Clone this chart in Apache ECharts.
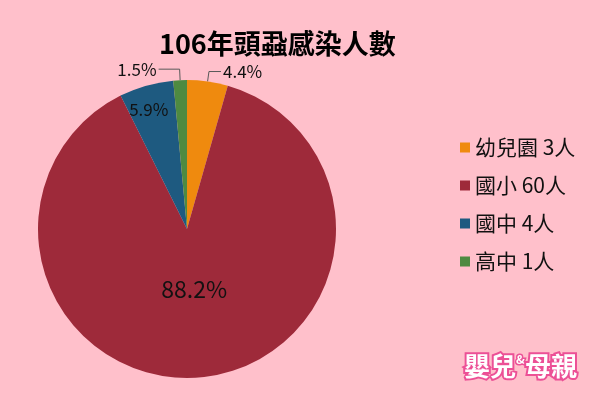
<!DOCTYPE html>
<html>
<head>
<meta http-equiv="content-type" content="text/html; charset=UTF-8">
<title>106年頭蝨感染人數</title>
<script src="https://cdn.jsdelivr.net/npm/echarts@6/dist/echarts.min.js"></script>
<style>
  html, body { margin: 0; padding: 0; background: #ffc0cb; }
</style>
</head>
<body>
	<div id="main" style="width: 600px; height: 400px;"></div>
	<script type="text/javascript">

        // 資料
        var categories = ['幼兒園', '國小', '國中', '高中'];
        var counts = [3, 60, 4, 1];
        var colors = ['#ef8a0e', '#9e2a3a', '#1e5a80', '#4e8a41'];

        var total = counts.reduce(function (a, b) { return a + b; }, 0);
        var FONT = '"Noto Sans CJK TC", "Noto Sans", sans-serif';

        // 每塊的標籤樣式
        var labelStyles = [
            { position: 'outside', fontSize: 17, distanceToLabelLine: 2 },
            { position: 'inside', fontSize: 23 },
            { position: 'inside', fontSize: 17 },
            { position: 'outside', fontSize: 17, distanceToLabelLine: 2 }
        ];
        var lineStyles = [
            { length: 10, length2: 12 },
            {},
            {},
            { length: 11, length2: 21 }
        ];

        var pieData = categories.map(function (name, i) {
            return {
                name: name,
                value: counts[i],
                itemStyle: { color: colors[i] },
                label: labelStyles[i],
                labelLine: lineStyles[i]
            };
        });

        var myChart = echarts.init(document.getElementById('main'));

        var option = {
            backgroundColor: '#ffc0cb',
            animation: false,
            title: {
                text: '106年頭蝨感染人數',
                left: 154,
                top: 25,
                textStyle: { fontFamily: FONT, fontSize: 27, fontWeight: 'bold', color: '#000' }
            },
            legend: {
                orient: 'vertical',
                left: 455,
                top: 132,
                itemWidth: 10,
                itemHeight: 10,
                itemGap: 17,
                icon: 'rect',
                data: categories,
                formatter: function (name) {
                    return name + ' ' + counts[categories.indexOf(name)] + '人';
                },
                textStyle: { fontFamily: FONT, fontSize: 21, color: '#111', padding: [8, 0, 0, 0] }
            },
            series: [{
                name: '頭蝨感染人數',
                type: 'pie',
                center: [187, 229],
                radius: 149,
                startAngle: 90,
                clockwise: true,
                avoidLabelOverlap: false,
                emphasis: { disabled: true },
                label: {
                    fontFamily: FONT,
                    color: '#111',
                    formatter: function (p) {
                        return (p.value / total * 100).toFixed(1) + '%';
                    }
                },
                labelLine: {
                    show: true,
                    smooth: false,
                    lineStyle: { color: '#595959', width: 1 }
                },
                labelLayout: function (p) {
                    if (p.dataIndex === 1) return { dy: -17 };
                    if (p.dataIndex === 2) return { dx: -17, dy: -45 };
                    return {};
                },
                data: pieData
            }],
            graphic: [{
                type: 'text',
                left: 462,
                top: 351,
                style: {
                    text: '{a|嬰兒}{b|&}{a|母親}',
                    rich: {
                        a: { fontFamily: FONT, fontSize: 26, fontWeight: 'bold', fill: '#fff',
                             stroke: '#ec5096', lineWidth: 4 },
                        b: { fontFamily: FONT, fontSize: 12, fontWeight: 'bold', fill: '#fff',
                             stroke: '#ec5096', lineWidth: 3, verticalAlign: 'top', padding: [0, 0, 14, 0] }
                    }
                }
            }]
        };

        myChart.setOption(option);

    </script>
</body>
</html>
